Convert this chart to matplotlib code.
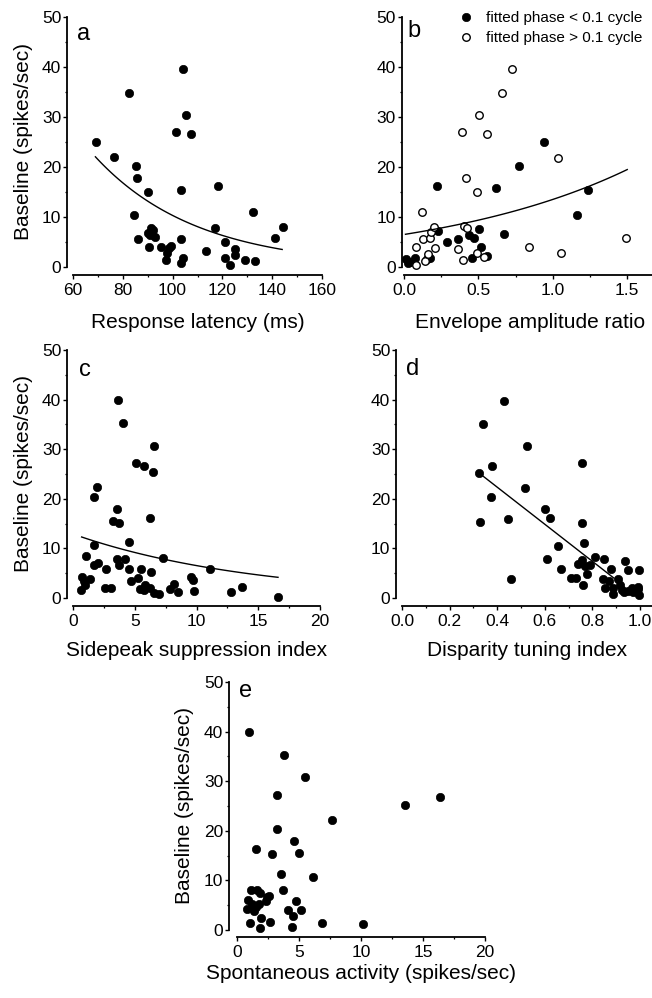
"""
Baseline firing vs. five cell properties (panels a-e)
"""

import numpy as np
from matplotlib import pyplot as plt
from matplotlib.ticker import MultipleLocator

# Panel a: response latency (ms) vs baseline (spikes/sec)
a_latency = [69.4, 76.4, 82.6, 85.4, 85.8, 84.4, 86.2, 90.3, 90.6, 90.2,
             91.3, 92.2, 91.0, 92.9, 95.3, 97.2, 97.6, 98.7, 99.3, 101.5,
             103.4, 103.2, 103.4, 104.0, 104.3, 105.5, 107.2, 113.3, 117.2, 118.3,
             121.1, 121.1, 123.0, 125.1, 125.1, 129.1, 132.1, 133.2, 141.2, 144.2]
a_base = [25.1, 22.0, 34.9, 20.3, 17.8, 10.5, 5.7, 15.0, 4.0, 6.8,
          7.9, 7.5, 6.5, 6.0, 4.0, 1.5, 2.8, 3.9, 4.3, 27.1,
          15.5, 5.7, 0.8, 1.8, 39.6, 30.5, 26.6, 3.3, 7.8, 16.3,
          5.1, 1.8, 0.5, 3.6, 2.5, 1.5, 11.0, 1.3, 5.8, 8.0]
a_fit = [119.5, -0.0245, 69, 144]   # A, k, x start, x end  (y = A*exp(k*x))

# Panel b: envelope amplitude ratio, split by fitted phase
b_fill_x = [0.016, 0.027, 0.043, 0.072, 0.155, 0.173, 0.223, 0.229, 0.29, 0.36,
            0.436, 0.47, 0.506, 0.52, 0.454, 0.555, 0.616, 0.675, 0.776, 0.944,
            1.165, 1.237]
b_fill_y = [1.6, 0.8, 1.1, 1.8, 1.6, 1.8, 16.3, 7.3, 5.1, 5.7,
            6.5, 5.8, 7.6, 4.1, 1.9, 2.3, 15.9, 6.6, 20.2, 25.1,
            10.5, 15.4]
b_open_x = [0.121, 0.079, 0.083, 0.128, 0.14, 0.162, 0.175, 0.182, 0.202, 0.211,
            0.362, 0.387, 0.394, 0.403, 0.416, 0.42, 0.488, 0.492, 0.506, 0.535,
            0.56, 0.659, 0.729, 0.839, 1.037, 1.055, 1.491]
b_open_y = [11.1, 4.1, 0.4, 5.7, 1.3, 2.6, 5.9, 7.0, 8.1, 3.9,
            3.6, 27.1, 1.4, 8.3, 17.8, 7.9, 2.8, 15.0, 30.5, 2.1,
            26.6, 34.9, 39.7, 4.1, 21.9, 2.8, 5.9]
b_fit = [6.5, 0.732, 0.01, 1.5]
b_labels = ["fitted phase < 0.1 cycle", "fitted phase > 0.1 cycle"]

# Panel c: sidepeak suppression index
c_x = [3.64, 4.02, 6.52, 5.12, 5.71, 6.47, 1.91, 1.73, 3.56, 3.23,
       3.69, 6.2, 4.53, 1.73, 1.08, 1.73, 2.02, 3.56, 4.18, 3.69,
       4.53, 2.7, 5.53, 6.33, 7.3, 11.08, 0.75, 0.86, 1.4, 0.67,
       0.99, 2.56, 3.1, 4.66, 5.23, 5.39, 5.71, 5.8, 6.2, 6.52,
       6.93, 7.87, 8.14, 8.54, 9.54, 9.7, 9.76, 12.8, 13.67, 16.58]
c_y = [39.9, 35.2, 30.7, 27.3, 26.7, 25.4, 22.3, 20.3, 17.9, 15.5,
       15.1, 16.1, 11.3, 10.6, 8.4, 6.6, 7.1, 7.9, 7.9, 6.6,
       5.8, 5.8, 5.8, 5.2, 8.0, 5.8, 4.2, 3.5, 3.9, 1.7,
       2.7, 2.0, 2.0, 3.4, 4.0, 1.8, 1.7, 2.7, 2.0, 1.0,
       0.8, 1.8, 2.8, 1.2, 4.2, 3.7, 1.5, 1.2, 2.3, 0.3]
c_fit = [12.9, -0.068, 0.7, 16.6]

# Panel d: disparity tuning index (linear fit)
d_x = [0.428, 0.342, 0.523, 0.379, 0.325, 0.757, 0.375, 0.515, 0.328, 0.447,
       0.602, 0.621, 0.757, 0.763, 0.656, 0.61, 0.456, 0.669, 0.711, 0.732,
       0.759, 0.741, 0.757, 0.769, 0.778, 0.79, 0.812, 0.847, 0.846, 0.853,
       0.879, 0.871, 0.888, 0.888, 0.909, 0.916, 0.923, 0.937, 0.948, 0.934,
       0.951, 0.972, 0.993, 0.996, 0.997, 0.993, 0.965]
d_y = [39.8, 35.1, 30.7, 26.7, 25.3, 27.3, 20.3, 22.1, 15.4, 16.0,
       17.9, 16.2, 15.2, 11.1, 10.5, 7.9, 3.8, 5.9, 4.0, 4.0,
       2.7, 6.9, 7.7, 6.4, 4.9, 6.6, 8.3, 7.9, 3.8, 2.0,
       5.8, 3.4, 2.0, 0.8, 3.8, 2.7, 1.7, 7.4, 5.7, 1.3,
       1.5, 1.3, 1.8, 5.7, 0.7, 2.3, 2.0]
d_fit = [37.3, -37.4, 0.33, 0.89]   # intercept, slope, x start, x end

# Panel e: spontaneous activity (no fit)
e_x = [1.0, 3.8, 5.49, 3.2, 13.54, 16.37, 7.64, 3.26, 4.58, 1.56,
       2.85, 4.98, 3.55, 6.16, 3.74, 1.1, 1.62, 1.88, 0.89, 2.42,
       2.58, 2.31, 0.81, 1.24, 1.37, 1.78, 1.51, 4.74, 4.12, 5.14,
       4.55, 1.97, 1.02, 2.66, 1.86, 4.44, 6.84, 10.15]
e_y = [39.9, 35.2, 30.8, 27.3, 25.3, 26.9, 22.2, 20.4, 18.0, 16.4,
       15.3, 15.5, 11.2, 10.6, 8.0, 8.0, 8.0, 7.5, 6.1, 6.6,
       6.8, 5.8, 4.2, 5.2, 3.8, 5.2, 4.6, 5.8, 4.0, 4.0,
       2.9, 2.4, 1.4, 1.7, 0.4, 0.7, 1.4, 1.2]

YLABEL = "Baseline (spikes/sec)"

plt.rcParams["font.family"] = ["Liberation Sans", "DejaVu Sans"]

# Figure size in pixels
W, H = 652, 998
fig = plt.figure(figsize=(W / 100, H / 100), dpi=100)


def px(v):
    # pixels -> points
    return v * 0.72


def panel(box, xlim, xmajor, xminor, letter, letter_xy, xlabel, xlabel_top,
          ylabel=None, yoff=6, xoff=8):
    x0, x1, y0, y1 = box
    ax = fig.add_axes([x0 / W, 1 - y1 / H, (x1 - x0) / W, (y1 - y0) / H])
    ax.set_xlim(*xlim)
    ax.set_ylim(0, 50)
    ax.patch.set_alpha(0)
    for s in ("top", "right"):
        ax.spines[s].set_visible(False)
    ax.spines["left"].set_position(("outward", px(yoff)))
    ax.spines["bottom"].set_position(("outward", px(xoff)))
    for s in ("left", "bottom"):
        ax.spines[s].set_linewidth(1.3)
    ax.xaxis.set_major_locator(MultipleLocator(xmajor))
    ax.xaxis.set_minor_locator(MultipleLocator(xminor))
    ax.yaxis.set_major_locator(MultipleLocator(10))
    ax.yaxis.set_minor_locator(MultipleLocator(5))
    ax.tick_params(which="major", direction="out", length=2.6, width=1.0,
                   labelsize=12.5, color="black")
    ax.tick_params(which="minor", direction="out", length=1.6, width=0.9)
    ax.tick_params(axis="x", pad=3)
    ax.tick_params(axis="y", pad=1.5)

    ax.set_xlabel(xlabel, fontsize=15)
    ax.xaxis.set_label_coords(0.5, -(xlabel_top - y1) / (y1 - y0))
    if ylabel:
        ax.set_ylabel(ylabel, fontsize=15)
        ax.yaxis.set_label_coords(-(x0 - 33 - (x0 - 73 if x0 < 100 else 0)) / (x1 - x0)
                                  if x0 < 100 else -(x0 - 194) / (x1 - x0), 0.5)
    ax.text(letter_xy[0], letter_xy[1], letter, transform=ax.transAxes,
            fontsize=17, ha="left", va="baseline")
    return ax


def draw_fit(ax, fit, linear=False):
    xs = np.linspace(fit[2], fit[3], 100)
    if linear:
        ys = fit[0] + fit[1] * xs
    else:
        ys = fit[0] * np.exp(fit[1] * xs)
    ax.plot(xs, ys, color="black", lw=1.0)


dot = dict(ls="none", marker="o", ms=6.0, mfc="black", mec="black", mew=0.5,
           clip_on=False)

# a
ax_a = panel((73, 322, 17, 267), (60, 160), 20, 10, "a", (0.016, 0.908),
             "Response latency (ms)", 313, ylabel=YLABEL)
ax_a.plot(a_latency, a_base, **dot)
draw_fit(ax_a, a_fit)

# b
ax_b = panel((404, 657, 17, 267), (0, 1.7), 0.5, 0.25, "b", (0.015, 0.92),
             "Envelope amplitude ratio", 313, yoff=2.5)
ax_b.plot(b_fill_x, b_fill_y, label=b_labels[0], **dot)
ax_b.plot(b_open_x, b_open_y, ls="none", marker="o", ms=5.4, mfc="white",
          mec="black", mew=1.0, clip_on=False, label=b_labels[1])
draw_fit(ax_b, b_fit)
ax_b.legend(loc="upper left", bbox_to_anchor=(458 / W, 1 - 11 / H),
            bbox_transform=fig.transFigure, frameon=False, borderpad=0,
            borderaxespad=0, handlelength=1.0, handletextpad=0.85,
            labelspacing=0.4, fontsize=11)

# c
ax_c = panel((73, 320, 350, 598), (0, 20), 5, 2.5, "c", (0.024, 0.895),
             "Sidepeak suppression index", 641, ylabel=YLABEL)
ax_c.plot(c_x, c_y, **dot)
draw_fit(ax_c, c_fit)

# d
ax_d = panel((402, 652, 350, 598), (0, 1.05), 0.2, 0.1, "d", (0.016, 0.9),
             "Disparity tuning index", 641)
ax_d.plot(d_x, d_y, **dot)
draw_fit(ax_d, d_fit, linear=True)

# e
ax_e = panel((237, 485, 682, 930), (0, 20), 5, 2.5, "e", (0.01, 0.94),
             "Spontaneous activity (spikes/sec)", 964, ylabel=YLABEL,
             yoff=8, xoff=7)
ax_e.plot(e_x, e_y, **dot)

plt.savefig("out.png", dpi=100)
